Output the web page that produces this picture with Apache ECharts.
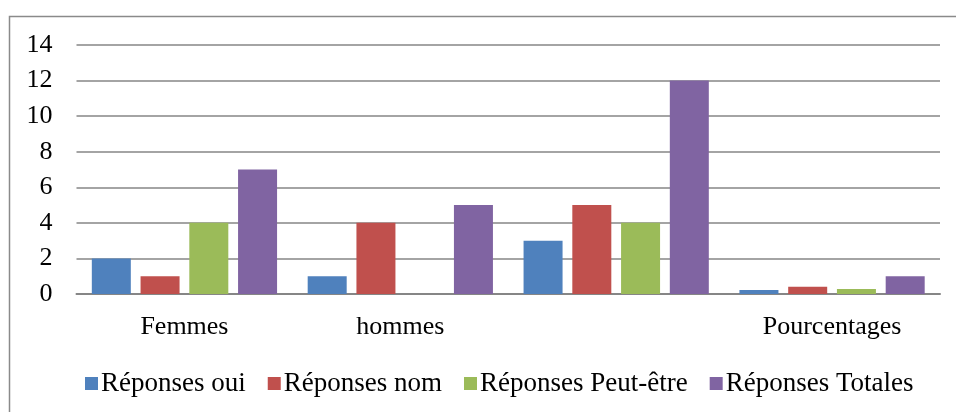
<!DOCTYPE html>
<html>
<head>
<meta charset="utf-8">
<script src="https://cdn.jsdelivr.net/npm/echarts@6/dist/echarts.min.js"></script>
<style>
html,body{margin:0;padding:0;background:#fff;}
#c{width:956px;height:412px;}
</style>
</head>
<body>
<div id="c"></div>
<script>
const categories = ["Femmes", "hommes", "", "Pourcentages"];
const seriesNames = ["Réponses oui", "Réponses nom", "Réponses Peut-être", "Réponses Totales"];
const reponsesOui = [2, 1, 3, 0.22];
const reponsesNom = [1, 4, 5, 0.41];
const reponsesPeutEtre = [4, 0, 4, 0.28];
const reponsesTotales = [7, 5, 12, 1];
const yTicks = { min: 0, max: 14, interval: 2 };

const colors = ["#4F81BD", "#C0504D", "#9BBB59", "#8064A2"];
const dataSets = [reponsesOui, reponsesNom, reponsesPeutEtre, reponsesTotales];
const font = "Times New Roman, Liberation Serif, DejaVu Serif, serif";

const chart = echarts.init(document.getElementById('c'), null, {renderer: 'canvas'});
chart.setOption({
  animation: false,
  backgroundColor: '#fff',
  color: colors,
  textStyle: {fontFamily: font},
  graphic: [{
    type: 'rect',
    shape: {x: 9.5, y: 16.5, width: 960, height: 420},
    style: {fill: 'none', stroke: '#8a8a8a', lineWidth: 1.5},
    silent: true
  }],
  grid: {left: 76.5, right: 16, top: 45, bottom: 118, containLabel: false},
  legend: {
    left: 80,
    top: 365,
    icon: 'rect',
    itemWidth: 13,
    itemHeight: 13,
    itemGap: 22,
    textStyle: {fontFamily: font, fontSize: 27, color: '#000', padding: [0, 0, 0, -2]},
    data: seriesNames
  },
  xAxis: {
    type: 'category',
    data: categories,
    axisTick: {show: false},
    axisLine: {lineStyle: {color: '#868686', width: 2}},
    axisLabel: {fontFamily: font, fontSize: 26, color: '#000', margin: 20, interval: 0}
  },
  yAxis: {
    type: 'value',
    min: yTicks.min,
    max: yTicks.max,
    interval: yTicks.interval,
    axisLine: {show: false},
    axisTick: {show: false},
    splitLine: {lineStyle: {color: '#868686', width: 1.5}},
    axisLabel: {fontFamily: font, fontSize: 26, color: '#000', margin: 24}
  },
  series: seriesNames.map((name, i) => ({
    name: name,
    type: 'bar',
    data: dataSets[i],
    barWidth: 39,
    barGap: '25%',
    itemStyle: {color: colors[i]}
  }))
});
</script>
</body>
</html>
